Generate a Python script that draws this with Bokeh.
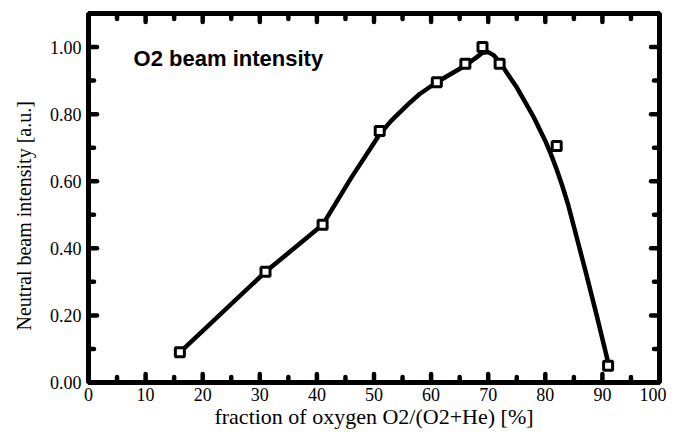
import math
from bokeh.plotting import figure
from bokeh.models import Range1d, FixedTicker, NumeralTickFormatter, Label, Title
from bokeh.embed import file_html
from bokeh.resources import INLINE

# measured data points
o2_fraction = [16, 31, 41, 51, 61, 66, 69, 72, 82, 91]
intensity = [0.09, 0.33, 0.47, 0.75, 0.895, 0.95, 1.00, 0.95, 0.705, 0.05]

# smooth fitted curve
fit_x = [16, 31, 41, 46, 51, 53, 56, 58, 61, 63, 66, 68, 69, 70, 71, 72, 73, 74,
         75, 76, 77, 78, 79, 80, 81, 82, 83, 84, 85, 87, 89, 91]
fit_y = [0.09, 0.33, 0.47, 0.61, 0.74, 0.78, 0.83, 0.86, 0.895, 0.915, 0.945, 0.97,
         0.983, 0.985, 0.975, 0.955, 0.93, 0.905, 0.88, 0.85, 0.82, 0.79, 0.755,
         0.72, 0.68, 0.635, 0.585, 0.53, 0.465, 0.335, 0.2, 0.06]

# ticks
x_major_ticks = [0, 10, 20, 30, 40, 50, 60, 70, 80, 90, 100]
x_minor_ticks = [5, 15, 25, 35, 45, 55, 65, 75, 85, 95]
y_major_ticks = [0.0, 0.2, 0.4, 0.6, 0.8, 1.0]
y_minor_ticks = [0.1, 0.3, 0.5, 0.7, 0.9]

x_label = "fraction of oxygen O2/(O2+He) [%]"
y_label = "Neutral beam intensity [a.u.]"
title_text = "O2 beam intensity"

X_MIN, X_MAX = 0, 100
Y_MIN, Y_MAX = 0, 1.1

SERIF = "Liberation Serif"

p = figure(width=666, height=432, output_backend="svg", toolbar_location=None,
           x_range=Range1d(X_MIN, X_MAX), y_range=Range1d(Y_MIN, Y_MAX),
           min_border_left=88, min_border_right=7, min_border_top=13, min_border_bottom=50)
p.background_fill_color = "white"
p.border_fill_color = "white"
p.grid.visible = False
p.outline_line_color = "black"
p.outline_line_width = 5

p.xaxis.ticker = FixedTicker(ticks=x_major_ticks)
p.yaxis.ticker = FixedTicker(ticks=y_major_ticks)
p.yaxis.formatter = NumeralTickFormatter(format="0.00")

for ax in (p.xaxis[0], p.yaxis[0]):
    ax.axis_line_width = 5
    ax.axis_line_color = "black"
    ax.major_tick_in = 0
    ax.major_tick_out = 0
    ax.minor_tick_in = 0
    ax.minor_tick_out = 0
    ax.major_label_text_font = SERIF
    ax.major_label_text_font_size = "18px"
    ax.major_label_text_color = "black"
p.xaxis.major_label_standoff = 5
p.yaxis.major_label_standoff = 7

p.xaxis.axis_label = x_label
p.xaxis.axis_label_text_font = SERIF
p.xaxis.axis_label_text_font_size = "22px"
p.xaxis.axis_label_text_font_style = "normal"
p.xaxis.axis_label_text_color = "black"
p.xaxis.axis_label_standoff = 0

p.add_layout(Title(text=y_label, text_font=SERIF, text_font_size="20px",
                   text_font_style="normal", text_color="black", align="left",
                   vertical_align="top", offset=52, standoff=20), "left")

# inward ticks on all four sides (dash markers centred on the frame edge; the
# outer half is clipped away by the frame)
TICK_W = 4.5
def ticks(xs, ys, size, angle):
    p.scatter(xs, ys, marker="dash", size=size, angle=angle, line_color="black",
              line_width=TICK_W, line_cap="round")

ticks(x_major_ticks, [Y_MIN] * len(x_major_ticks), 17, math.pi / 2)
ticks(x_minor_ticks, [Y_MIN] * len(x_minor_ticks), 11, math.pi / 2)
ticks(x_major_ticks, [Y_MAX] * len(x_major_ticks), 17, math.pi / 2)
ticks(x_minor_ticks, [Y_MAX] * len(x_minor_ticks), 11, math.pi / 2)
ticks([X_MIN] * len(y_major_ticks), y_major_ticks, 17, 0)
ticks([X_MIN] * len(y_minor_ticks), y_minor_ticks, 11, 0)
ticks([X_MAX] * len(y_major_ticks), y_major_ticks, 17, 0)
ticks([X_MAX] * len(y_minor_ticks), y_minor_ticks, 11, 0)

p.line(fit_x, fit_y, line_color="black", line_width=4.5, line_join="round")
p.scatter(o2_fraction, intensity, marker="square", size=9, fill_color="white",
          line_color="black", line_width=3)

p.add_layout(Label(x=7.9, y=0.965, text=title_text, text_font="Liberation Sans",
                   text_font_style="bold", text_font_size="22px", text_color="black",
                   text_baseline="alphabetic"))

open("out.html", "w").write(file_html(p, INLINE))
